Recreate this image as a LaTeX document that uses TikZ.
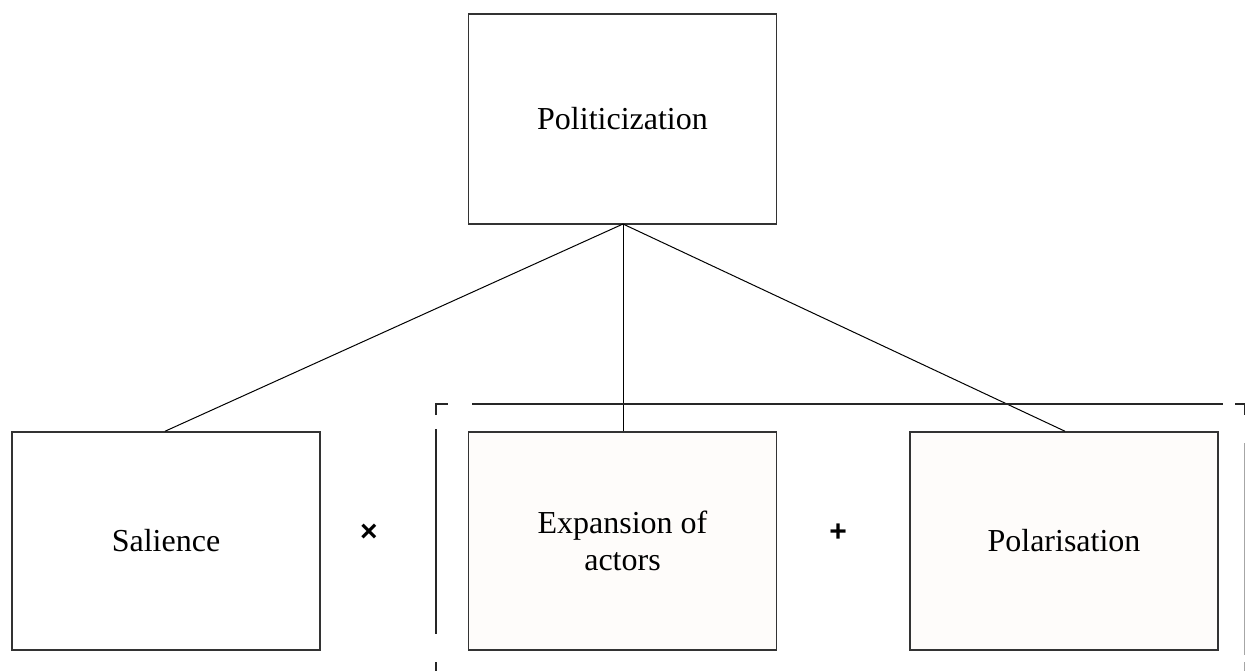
\documentclass[tikz,border=0pt]{standalone}
\usepackage{fontspec}
\setmainfont{Liberation Serif}
\newfontfamily\symfont{Liberation Sans}
\definecolor{cream}{HTML}{FEFCFA}
\begin{document}
\begin{tikzpicture}[x=1pt,y=-1pt,
  box/.style={draw=black!80,line width=1.5pt,minimum width=308pt,minimum height=218pt,inner sep=0pt,font=\fontsize{32}{37}\selectfont,align=center},
  cbox/.style={box,fill=cream},
  conn/.style={line width=1pt,black},
  brk/.style={line width=1.8pt,black!85},
  sym/.style={font=\symfont\bfseries\fontsize{30}{32}\selectfont}]
\useasboundingbox (0,0) rectangle (1246,670);
\node[box,minimum height=210pt] (pol) at (622.5,119) {Politicization};
\node[box] (sal) at (166,541) {Salience};
\node[cbox] (exp) at (622.5,541) {Expansion of\\actors};
\node[cbox] (plr) at (1064,541) {Polarisation};
\node[sym] (times) at (369,533) {×};
\node[sym] (plus) at (838,533) {+};
\coordinate (apex) at (623,224);
\draw[conn] (apex) -- (sal.north -| 165,0);
\draw[conn] (apex) -- (exp.north -| 623,0);
\draw[conn] (apex) -- (plr.north -| 1065,0);
% dashed bracket
\coordinate (tl) at (436,404);
\coordinate (tr) at (1244.5,404);
\draw[brk] (436,415) -- (tl) -- (448,404);
\draw[brk] (472,404) -- (1223,404);
\draw[brk] (1235,404) -- (tr) -- (1244.5,415);
\draw[brk] (436,429) -- (436,634);
\draw[brk] (436,662) -- (436,671);
\draw[line width=1.2pt,black!35] (1244.5,443) -- (1244.5,655);
\draw[line width=1.2pt,black!35] (1244.5,662) -- (1244.5,671);
\end{tikzpicture}
\end{document}
